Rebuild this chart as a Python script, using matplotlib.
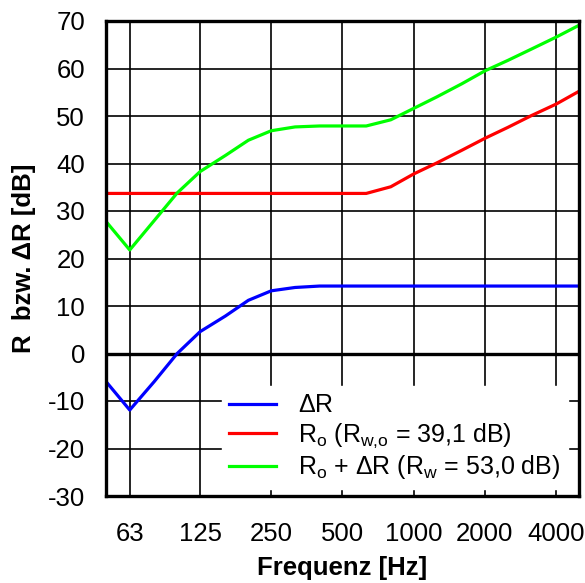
import matplotlib
matplotlib.use("Agg")
import matplotlib.pyplot as plt
from matplotlib.ticker import FixedLocator, FixedFormatter, NullLocator

plt.rcParams['font.family'] = ['Liberation Sans', 'DejaVu Sans']
plt.rcParams['mathtext.fontset'] = 'custom'
plt.rcParams['mathtext.rm'] = 'Liberation Sans'
plt.rcParams['mathtext.it'] = 'Liberation Sans'
plt.rcParams['axes.unicode_minus'] = False

# third-octave band centre frequencies [Hz]
freqs = [50, 63, 80, 100, 125, 160, 200, 250, 315, 400, 500, 630,
         800, 1000, 1250, 1600, 2000, 2500, 3150, 4000, 5000]
delta_R = [-5.9, -11.9, -5.9, 0.0, 4.6, 7.9, 11.2, 13.2, 13.9, 14.2, 14.2, 14.2,
           14.2, 14.2, 14.2, 14.2, 14.2, 14.2, 14.2, 14.2, 14.2]
R_o = [33.7, 33.7, 33.7, 33.7, 33.7, 33.7, 33.7, 33.7, 33.7, 33.7, 33.7, 33.7,
       35.1, 37.8, 40.1, 42.8, 45.3, 47.6, 50.1, 52.5, 55.2]
R_sum = [27.8, 21.8, 28.0, 33.8, 38.3, 41.7, 44.9, 46.9, 47.7, 47.9, 47.9, 47.9,
         49.2, 51.6, 54.0, 56.8, 59.5, 61.7, 64.1, 66.6, 69.1]

xtick_vals = [63, 125, 250, 500, 1000, 2000, 4000]
xtick_labels = ['63', '125', '250', '500', '1000', '2000', '4000']
ytick_vals = [-30, -20, -10, 0, 10, 20, 30, 40, 50, 60, 70]
ytick_labels = ['-30', '-20', '-10', '0', '10', '20', '30', '40', '50', '60', '70']

labels = [r'$\Delta$R',
          r'R$_\mathrm{o}$ (R$_\mathrm{w{,}o}$ = 39,1 dB)',
          r'R$_\mathrm{o}$ + $\Delta$R (R$_\mathrm{w}$ = 53,0 dB)']

FS = 18.5
LFS = 18

fig = plt.figure(figsize=(5.85, 5.83), dpi=100)
ax = fig.add_axes([106/585, 1-496/583, 473/585, 475/583])

ax.set_xscale('log')
ax.set_xlim(50, 5000)
ax.set_ylim(-30, 70)

for x in xtick_vals:
    ax.axvline(x, color='black', lw=1.2, zorder=1)
for y in ytick_vals:
    if y == 0:
        ax.axhline(y, color='black', lw=2.4, zorder=1)
    else:
        ax.axhline(y, color='black', lw=1.2, zorder=1)

ax.plot(freqs, delta_R, color='#0000ff', lw=2.3, label=labels[0], zorder=3)
ax.plot(freqs, R_o, color='#ff0000', lw=2.3, label=labels[1], zorder=3)
ax.plot(freqs, R_sum, color='#00ff00', lw=2.3, label=labels[2], zorder=3)

ax.xaxis.set_major_locator(FixedLocator(xtick_vals))
ax.xaxis.set_major_formatter(FixedFormatter(xtick_labels))
ax.xaxis.set_minor_locator(NullLocator())
ax.yaxis.set_major_locator(FixedLocator(ytick_vals))
ax.yaxis.set_major_formatter(FixedFormatter(ytick_labels))
ax.tick_params(axis='both', length=0, labelsize=FS)
ax.tick_params(axis='x', pad=19)
ax.tick_params(axis='y', pad=15)

for s in ax.spines.values():
    s.set_linewidth(2.4)
    s.set_color('black')
    s.set_zorder(5)

ax.set_xlabel('Frequenz [Hz]', fontsize=FS, fontweight='bold')
ax.xaxis.set_label_coords(0.5, (496-568)/475)
ax.xaxis.label.set_va('center')
ax.set_ylabel('R  bzw. ΔR [dB]', fontsize=FS, fontweight='bold')
ax.yaxis.set_label_coords((24-106)/473, 0.5)
ax.yaxis.label.set_va('center')

leg = ax.legend(loc='lower right', bbox_to_anchor=(0.977, 0.015), borderaxespad=0,
                fontsize=LFS, frameon=True, fancybox=False, framealpha=1,
                edgecolor='white', facecolor='white', handlelength=1.88,
                handletextpad=0.87, labelspacing=0.15, borderpad=0.3)
leg.set_zorder(4)

fig.savefig('out.png', dpi=100)
